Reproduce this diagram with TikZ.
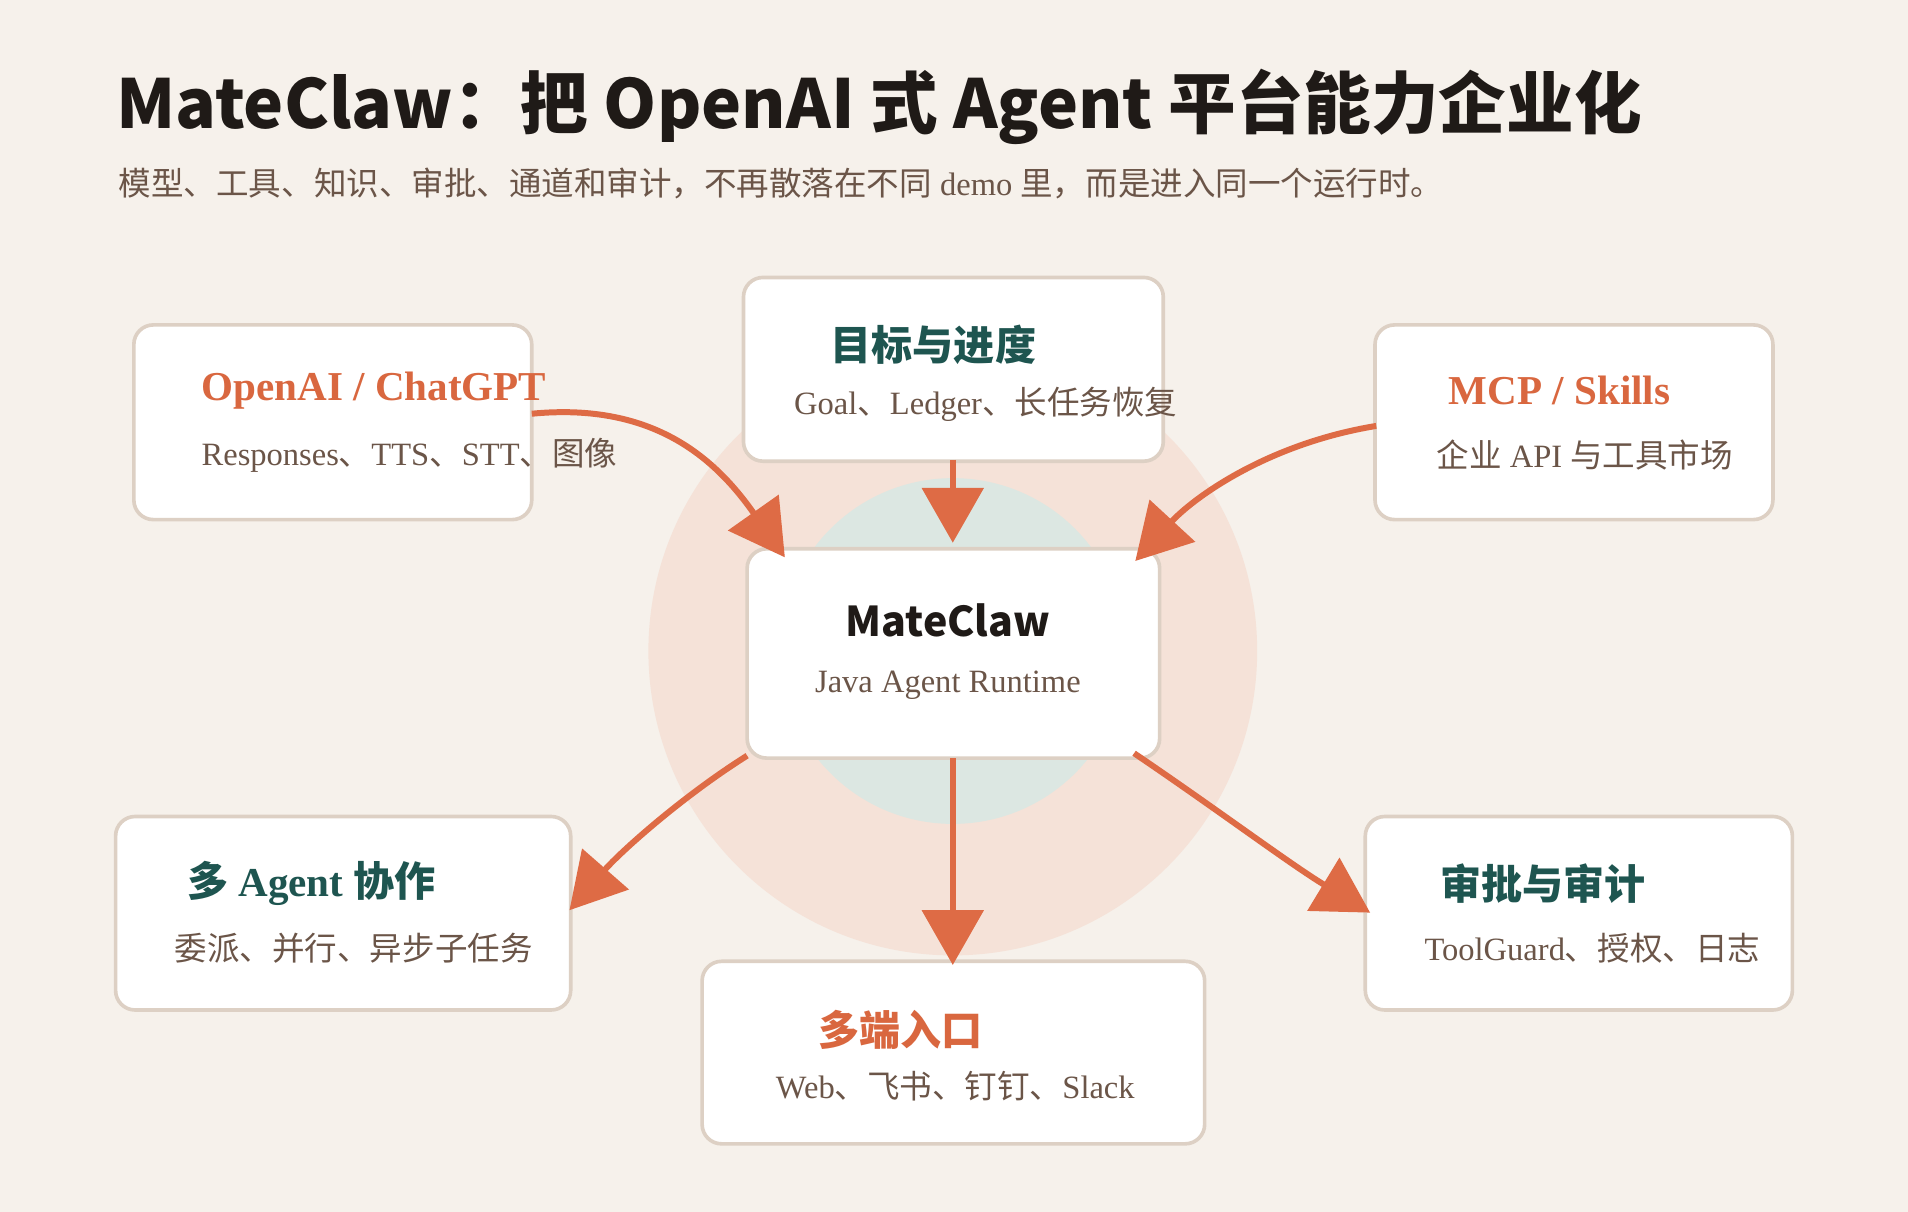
\documentclass[tikz,border=0pt]{standalone}
\usepackage{fontspec}
\setmainfont{Liberation Serif}
\newfontfamily\cjk{Noto Sans CJK SC}
\newfontfamily\headfont{Noto Sans CJK SC}
\definecolor{mcBack}{HTML}{F6F1EB}
\definecolor{mcText}{HTML}{1F1A17}
\definecolor{mcSub}{HTML}{6B5548}
\definecolor{mcOrange}{HTML}{D9673F}
\definecolor{mcArrow}{HTML}{DE6B45}
\definecolor{mcTeal}{HTML}{1E5550}
\definecolor{mcRing}{HTML}{F5E2D8}
\definecolor{mcCore}{HTML}{DCE7E2}
\definecolor{mcLine}{HTML}{DDD0C4}
\usetikzlibrary{positioning,arrows.meta}
\newcommand{\zh}[1]{{\cjk #1}}
\begin{document}
\begin{tikzpicture}[x=0.01cm, y=-0.01cm,
  card/.style={draw=mcLine, line width=0.85pt, fill=white, rounded corners=0.16cm},
  head/.style={anchor=west, inner sep=0pt, font=\fontsize{9.6}{12}\selectfont\bfseries},
  note/.style={anchor=west, inner sep=0pt, text=mcSub, font=\fontsize{7.6}{9}\selectfont},
  arr/.style={-{Triangle[length=0.45cm, width=0.5cm]}, line width=1.4pt, color=mcArrow}
]
  \fill[mcBack] (0,0) rectangle (1568,996);
  \useasboundingbox (0,0) rectangle (1568,996);

  % title
  \node[anchor=west, inner sep=0pt, text=mcText, font=\headfont\fontsize{15.8}{19}\selectfont\bfseries] (title) at (95,88)
    {MateClaw：把 OpenAI 式 Agent 平台能力企业化};
  \node[note, font=\fontsize{7.6}{9}\selectfont] (subtitle) at (97,151)
    {\zh{模型、工具、知识、审批、通道和审计，不再散落在不同} demo \zh{里，而是进入同一个运行时。}};

  % rings
  \fill[mcRing] (783,535) circle (2.5cm);
  \fill[mcCore] (783,535) circle (1.42cm);

  % cards
  \draw[card] (110,267) rectangle (437,427);
  \draw[card] (611,228) rectangle (956,379);
  \draw[card] (1130,267) rectangle (1457,427);
  \draw[card] (614,451) rectangle (953,623);
  \draw[card] (95,671) rectangle (469,830);
  \draw[card] (577,790) rectangle (990,940);
  \draw[card] (1122,671) rectangle (1473,830);

  % labels
  \node[head, text=mcOrange] (openai) at (165,321) {OpenAI / ChatGPT};
  \node[note] (openaiSub) at (165,374) {Responses\zh{、}TTS\zh{、}STT\zh{、图像}};
  \node[head, text=mcTeal, font=\cjk\fontsize{9.6}{12}\selectfont\bfseries] (goal) at (682,283) {目标与进度};
  \node[note] (goalSub) at (652,332) {Goal\zh{、}Ledger\zh{、长任务恢复}};
  \node[head, text=mcOrange] (mcp) at (1190,321) {MCP / Skills};
  \node[note] (mcpSub) at (1180,374) {\zh{企业} API \zh{与工具市场}};
  \node[inner sep=0pt, text=mcText, font=\headfont\fontsize{9.6}{12}\selectfont\bfseries] (core) at (779,510) {MateClaw};
  \node[inner sep=0pt, text=mcSub, font=\fontsize{7.6}{9}\selectfont] (coreSub) at (779,563) {Java Agent Runtime};
  \node[head, text=mcTeal] (multi) at (153,726) {\zh{多} Agent \zh{协作}};
  \node[note] (multiSub) at (143,779) {\zh{委派、并行、异步子任务}};
  \node[head, text=mcOrange, font=\cjk\fontsize{9.6}{12}\selectfont\bfseries] (entry) at (672,846) {多端入口};
  \node[note] (entrySub) at (637,893) {Web\zh{、飞书、钉钉、}Slack};
  \node[head, text=mcTeal, font=\cjk\fontsize{9.6}{12}\selectfont\bfseries] (audit) at (1183,726) {审批与审计};
  \node[note] (auditSub) at (1170,779) {ToolGuard\zh{、授权、日志}};

  % connectors
  \coordinate (openaiOut) at (437,340);
  \coordinate (coreNW) at (645,458);
  \coordinate (goalOut) at (783,378);
  \coordinate (coreN) at (783,446);
  \coordinate (mcpOut) at (1131,350);
  \coordinate (coreNE) at (933,461);
  \coordinate (coreSW) at (614,621);
  \coordinate (multiIn) at (468,748);
  \coordinate (coreS) at (783,623);
  \coordinate (entryIn) at (783,793);
  \coordinate (coreSE) at (932,619);
  \coordinate (auditIn) at (1126,750);

  \draw[arr] (openaiOut) .. controls (540,330) and (590,380) .. (coreNW);
  \draw[arr] (goalOut) -- (coreN);
  \draw[arr] (mcpOut) .. controls (1040,365) and (980,410) .. (coreNE);
  \draw[arr] (coreSW) .. controls (560,655) and (510,700) .. (multiIn);
  \draw[arr] (coreS) -- (entryIn);
  \draw[arr] (coreSE) .. controls (1000,665) and (1060,710) .. (auditIn);
\end{tikzpicture}
\end{document}
